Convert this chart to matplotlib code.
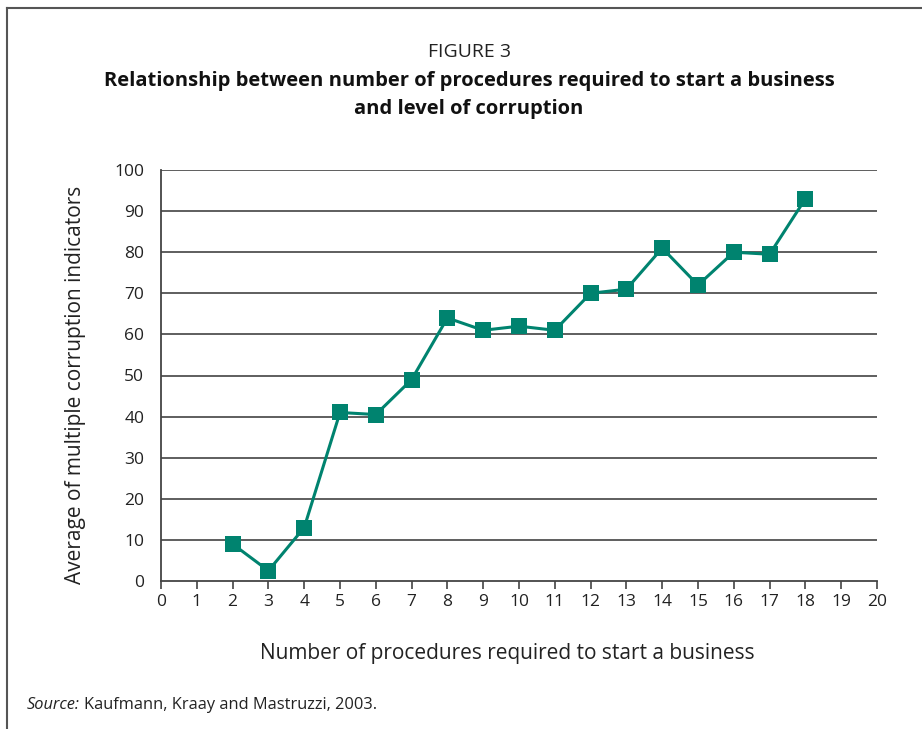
import matplotlib.pyplot as plt
from matplotlib.lines import Line2D

plt.rcParams['font.family'] = ['Open Sans', 'DejaVu Sans']

# data
procedures = [2, 3, 4, 5, 6, 7, 8, 9, 10, 11, 12, 13, 14, 15, 16, 17, 18]
corruption = [9, 2.5, 13, 41, 40.5, 49, 64, 61, 62, 61, 70, 71, 81, 72, 80, 79.5, 93]
xticks = list(range(0, 21))
yticks = list(range(0, 101, 10))

teal = '#00836f'

fig = plt.figure(figsize=(9.22, 7.29), dpi=100)
ax = fig.add_axes([161 / 922, 1 - 581 / 729, (877 - 161) / 922, (581 - 170) / 729])

for y in yticks[1:]:
    ax.axhline(y, color='#333333', lw=1.1, zorder=1)

ax.plot(procedures, corruption, color=teal, lw=2.2, marker='s', markersize=11.5,
        markeredgewidth=0, zorder=3, clip_on=False)

ax.set_xlim(0, 20)
ax.set_ylim(0, 100)
ax.set_xticks(xticks)
ax.set_yticks(yticks)
ax.tick_params(axis='x', direction='out', length=6, width=1.1, color='#333333',
               labelsize=12.5, pad=3, labelcolor='#222222')
ax.tick_params(axis='y', length=0, labelsize=12.5, pad=12, labelcolor='#222222')
for side in ['top', 'right']:
    ax.spines[side].set_visible(False)
for side in ['left', 'bottom']:
    ax.spines[side].set_color('#444444')
    ax.spines[side].set_linewidth(1.3)

fig.text(507 / 922, 1 - 654 / 729, 'Number of procedures required to start a business',
         ha='center', va='center', fontsize=15, color='#222222')
fig.text(76 / 922, 1 - 385 / 729, 'Average of multiple corruption indicators',
         ha='center', va='center', rotation=90, fontsize=15, color='#222222')

fig.text(469 / 922, 1 - 52 / 729, 'FIGURE 3', ha='center', va='center', fontsize=14,
         color='#222222')
fig.text(469 / 922, 1 - 95 / 729,
         'Relationship between number of procedures required to start a business\nand level of corruption',
         ha='center', va='center', fontsize=14.5, fontweight='bold', linespacing=1.5,
         color='#111111')

src = fig.text(27 / 922, 1 - 705 / 729, 'Source:', ha='left', va='center', fontsize=11.8,
               style='italic', color='#222222')
fig.canvas.draw()
bb = src.get_window_extent()
fig.text(bb.x1 / 922 + 0.004, 1 - 705 / 729, 'Kaufmann, Kraay and Mastruzzi, 2003.',
         ha='left', va='center', fontsize=11.8, color='#222222')

# frame around the figure
fig.add_artist(Line2D([7 / 922, 1], [1 - 8 / 729, 1 - 8 / 729], color='#555555', lw=1.5,
                      transform=fig.transFigure))
fig.add_artist(Line2D([7 / 922, 7 / 922], [0, 1 - 8 / 729], color='#555555', lw=1.5,
                      transform=fig.transFigure))

fig.savefig('out.png', dpi=100)
